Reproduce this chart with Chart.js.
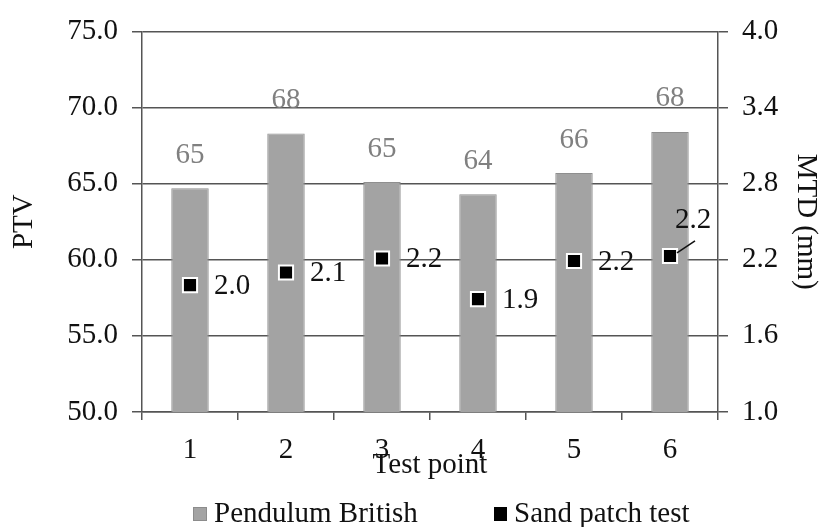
<!DOCTYPE html>
<html>
<head>
<meta charset="utf-8">
<script src="https://cdn.jsdelivr.net/npm/chart.js@4.4.1/dist/chart.umd.min.js"></script>
<style>
    html, body { margin: 0; padding: 0; background: #ffffff; }
    #wrap { width: 821px; height: 527px; }
</style>
</head>
<body>
<div id="wrap"><canvas id="chart" width="821" height="527"></canvas></div>
<script>
const testPoints = ["1", "2", "3", "4", "5", "6"];
const ptvValues = [64.7, 68.3, 65.1, 64.3, 65.7, 68.4];
const mtdValues = [2.0, 2.1, 2.21, 1.89, 2.19, 2.23];
const ptvTicks = [50, 55, 60, 65, 70, 75];
const mtdTicks = [1.0, 1.6, 2.2, 2.8, 3.4, 4.0];

const FONT = "'Liberation Serif', 'Times New Roman', serif";
const FONT_SIZE = 29;
const AXIS_GREY = "#555555";

// value labels for bars (grey, above) and squares (black, right of the mark)
const valueLabels = {
    id: "valueLabels",
    afterDatasetsDraw(chart) {
        const ctx = chart.ctx;
        ctx.save();
        ctx.font = FONT_SIZE + "px " + FONT;
        ctx.textBaseline = "middle";

        const barMeta = chart.getDatasetMeta(0);
        ctx.fillStyle = "#808080";
        ctx.textAlign = "center";
        barMeta.data.forEach((bar, i) => {
            ctx.fillText(String(Math.round(ptvValues[i])), bar.x, bar.y - 33);
        });

        const pointMeta = chart.getDatasetMeta(1);
        ctx.fillStyle = "#111111";
        ctx.textAlign = "left";
        pointMeta.data.forEach((pt, i) => {
            const txt = mtdValues[i].toFixed(1);
            if (i === pointMeta.data.length - 1) {
                // last label sits up and to the right, with a leader line
                ctx.strokeStyle = "#111111";
                ctx.lineWidth = 1.5;
                ctx.beginPath();
                ctx.moveTo(pt.x + 7, pt.y - 3);
                ctx.lineTo(pt.x + 25, pt.y - 15);
                ctx.stroke();
                ctx.fillText(txt, pt.x + 5, pt.y - 36);
            } else {
                ctx.fillText(txt, pt.x + 24, pt.y + 1);
            }
        });
        ctx.restore();
    }
};

// legend drawn under the axis title
const bottomLegend = {
    id: "bottomLegend",
    afterDraw(chart) {
        const ctx = chart.ctx;
        ctx.save();
        ctx.font = FONT_SIZE + "px " + FONT;
        ctx.textBaseline = "middle";
        ctx.textAlign = "left";

        ctx.fillStyle = "#a3a3a3";
        ctx.fillRect(193, 507, 14, 14);
        ctx.strokeStyle = "#8c8c8c";
        ctx.lineWidth = 1;
        ctx.strokeRect(193.5, 507.5, 13, 13);
        ctx.fillStyle = "#111111";
        ctx.fillText("Pendulum British", 214, 514);

        ctx.fillStyle = "#000000";
        ctx.fillRect(494, 507, 13, 14);
        ctx.fillStyle = "#111111";
        ctx.fillText("Sand patch test", 514, 514);
        ctx.restore();
    }
};

new Chart(document.getElementById("chart"), {
    data: {
        labels: testPoints,
        datasets: [
            {
                type: "bar",
                label: "Pendulum British",
                data: ptvValues,
                yAxisID: "y",
                backgroundColor: "#a3a3a3",
                borderColor: "#8f8f8f",
                borderWidth: 1,
                barPercentage: 0.39,
                categoryPercentage: 1.0,
                order: 2
            },
            {
                type: "line",
                label: "Sand patch test",
                data: mtdValues,
                yAxisID: "y1",
                showLine: false,
                pointStyle: "rect",
                pointRadius: 10,
                pointHoverRadius: 10,
                pointBackgroundColor: "#000000",
                pointBorderColor: "#ffffff",
                pointBorderWidth: 2,
                order: 1
            }
        ]
    },
    options: {
        responsive: false,
        animation: false,
        layout: {
            padding: { top: 23, right: 0, bottom: 44, left: 0 }
        },
        plugins: {
            legend: { display: false },
            tooltip: { enabled: false }
        },
        scales: {
            x: {
                offset: true,
                grid: {
                    offset: true,
                    drawOnChartArea: false,
                    drawTicks: true,
                    tickLength: 8,
                    color: AXIS_GREY,
                    lineWidth: 1.5
                },
                border: { color: AXIS_GREY, width: 1.5 },
                ticks: {
                    color: "#111111",
                    padding: 13,
                    font: { family: FONT, size: FONT_SIZE }
                },
                title: {
                    display: true,
                    text: "Test point",
                    color: "#111111",
                    padding: 0,
                    font: { family: FONT, size: FONT_SIZE }
                },
                afterFit(scale) { scale.height = 71; }
            },
            y: {
                position: "left",
                min: ptvTicks[0],
                max: ptvTicks[ptvTicks.length - 1],
                afterBuildTicks(scale) {
                    scale.ticks = ptvTicks.map(v => ({ value: v }));
                },
                grid: {
                    color: AXIS_GREY,
                    lineWidth: 1.5,
                    tickLength: 10
                },
                border: { color: AXIS_GREY, width: 1.5 },
                ticks: {
                    color: "#111111",
                    padding: 14,
                    font: { family: FONT, size: FONT_SIZE },
                    callback: v => Number(v).toFixed(1)
                },
                title: {
                    display: true,
                    text: "PTV",
                    color: "#111111",
                    padding: { top: 7, bottom: 0 },
                    font: { family: FONT, size: FONT_SIZE }
                },
                afterFit(scale) { scale.width = 142; }
            },
            y1: {
                position: "right",
                min: mtdTicks[0],
                max: mtdTicks[mtdTicks.length - 1],
                afterBuildTicks(scale) {
                    scale.ticks = mtdTicks.map(v => ({ value: v }));
                },
                grid: {
                    drawOnChartArea: false,
                    color: AXIS_GREY,
                    lineWidth: 1.5,
                    tickLength: 10
                },
                border: { color: AXIS_GREY, width: 1.5 },
                ticks: {
                    color: "#111111",
                    padding: 14,
                    font: { family: FONT, size: FONT_SIZE },
                    callback: v => Number(v).toFixed(1)
                },
                title: {
                    display: true,
                    text: "MTD (mm)",
                    color: "#111111",
                    padding: { top: -2, bottom: 0 },
                    font: { family: FONT, size: FONT_SIZE }
                },
                afterFit(scale) { scale.width = 103; }
            }
        }
    },
    plugins: [valueLabels, bottomLegend]
});
</script>
</body>
</html>
